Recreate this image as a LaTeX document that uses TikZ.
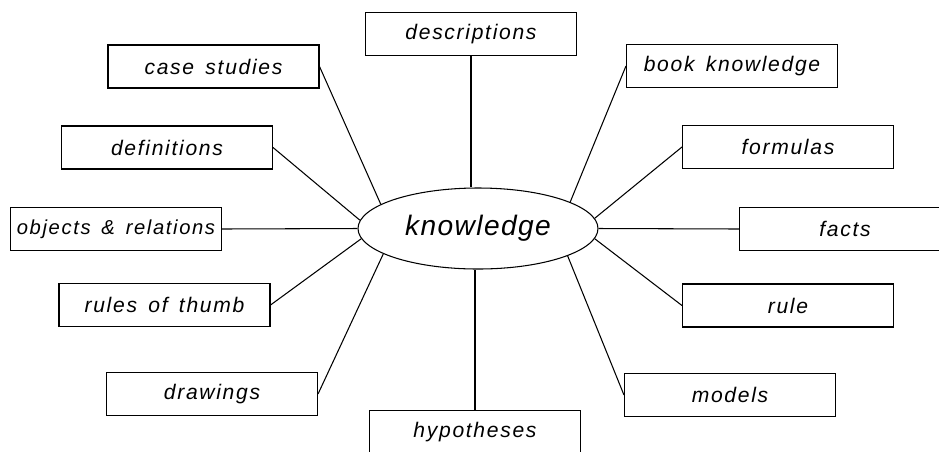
\documentclass[tikz,border=0pt]{standalone}
\usepackage{fontspec}
\setmainfont{Liberation Sans}
\newfontfamily\kastenfont{Liberation Sans}[LetterSpace=8,WordSpace=1.5]
\newfontfamily\mittefont{Liberation Sans}[LetterSpace=5]
\usetikzlibrary{shapes.geometric}
\begin{document}
\begin{tikzpicture}[
    kasten/.style={draw, line width=0.6pt, minimum width=4.22cm, minimum height=0.86cm,
        inner sep=0pt, font=\kastenfont\itshape\fontsize{12}{14}\selectfont},
    linie/.style={line width=0.6pt}]

    \useasboundingbox (0,0) rectangle (18.78,-9.02);

    % Ellipse in der Mitte
    \node[draw, ellipse, line width=0.6pt, minimum width=4.8cm, minimum height=1.62cm,
        inner sep=0pt, font=\mittefont\itshape\fontsize{16}{19}\selectfont] (know) at (9.56,-4.57) {knowledge};

    % Kaesten links
    \node[kasten] (case)   at (4.27,-1.33) {case studies};
    \node[kasten] (defs)   at (3.34,-2.95) {definitions};
    \node[kasten, font=\kastenfont\itshape\fontsize{11.5}{14}\selectfont] (objrel) at (2.32,-4.58) {objects \& relations};
    \node[kasten] (thumb)  at (3.29,-6.10) {rules of thumb};
    \node[kasten] (drawg)  at (4.24,-7.88) {drawings};

    % Kaesten oben und unten
    \node[kasten] (desc) at (9.42,-0.68) {descriptions};
    \node[kasten] (hyp)  at (9.50,-8.64) {hypotheses};

    % Kaesten rechts
    \node[kasten] (book)   at (14.64,-1.32) {book knowledge};
    \node[kasten] (form)   at (15.76,-2.94) {formulas};
    \node[kasten] (facts)  at (16.90,-4.58) {facts};
    \node[kasten] (rule)   at (15.76,-6.11) {rule};
    \node[kasten] (models) at (14.60,-7.90) {models};

    % Verbindungen
    \draw[linie] (desc) -- (desc |- know.north);
    \draw[linie] (hyp) -- (hyp |- know.south);
    \draw[linie] (case.east) -- (know.166);
    \draw[linie] (defs.east) -- (know.176);
    \draw[linie] (objrel.east) -- (know.180);
    \draw[linie] (thumb.east) -- (know.185);
    \draw[linie] (drawg.east) -- (know.195);
    \draw[linie] (book.west) -- (know.16);
    \draw[linie] (form.west) -- (know.5);
    \draw[linie] (facts.west) -- (know.0);
    \draw[linie] (rule.west) -- (know.355);
    \draw[linie] (models.west) -- (know.343);

\end{tikzpicture}
\end{document}
